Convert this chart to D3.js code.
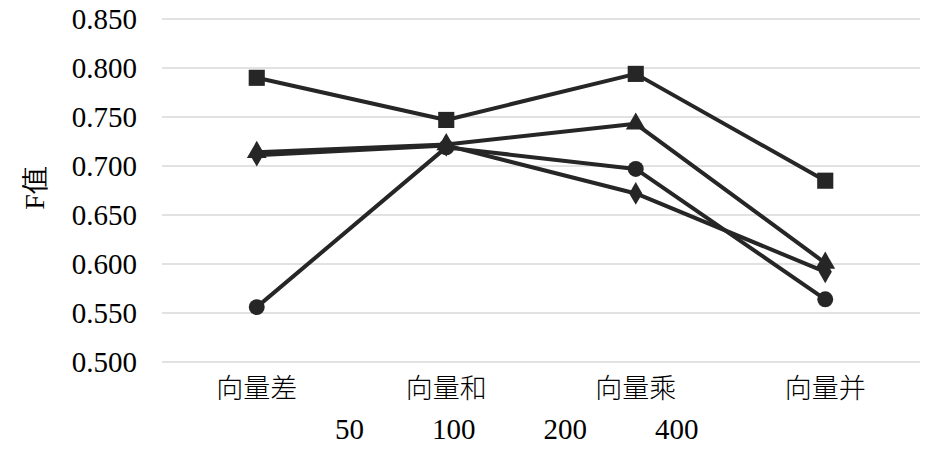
<!DOCTYPE html>
<html>
<head>
<meta charset="utf-8">
<script src="https://cdn.jsdelivr.net/npm/d3@7"></script>
<style>
  body { margin: 0; background: #fff; }
  svg { display: block; }
  .num { font-family: "Liberation Serif", "Times New Roman", "DejaVu Serif", serif; fill: #000; }
</style>
</head>
<body>
<svg width="945" height="468"></svg>
<script>
const categories = ["向量差", "向量和", "向量乘", "向量并"];
const seriesNames = ["50", "100", "200", "400"];
const s50 = [0.711, 0.721, 0.672, 0.592];
const s100 = [0.790, 0.747, 0.794, 0.685];
const s200 = [0.714, 0.722, 0.743, 0.601];
const s400 = [0.556, 0.719, 0.697, 0.564];
const yTicks = [0.5, 0.55, 0.6, 0.65, 0.7, 0.75, 0.8, 0.85];

const serif = '"Liberation Serif", "Times New Roman", "DejaVu Serif", serif';
const svg = d3.select("svg");
const plotLeft = 162, plotRight = 920, plotTop = 19, plotBottom = 362;

const x = d3.scaleBand().domain(categories).range([plotLeft, plotRight]);
const y = d3.scaleLinear().domain([0.5, 0.85]).range([plotBottom, plotTop]);
const xc = function (c) { return x(c) + x.bandwidth() / 2; };

// gridlines
svg.append("g").selectAll("line")
  .data(yTicks)
  .enter().append("line")
  .attr("x1", plotLeft).attr("x2", plotRight)
  .attr("y1", d => y(d)).attr("y2", d => y(d))
  .attr("stroke", "#d9d9d9").attr("stroke-width", 1.5);

// y axis labels
const yAxis = d3.axisLeft(y).tickValues(yTicks).tickFormat(d3.format(".3f")).tickSize(0).tickPadding(25);
const ga = svg.append("g").attr("transform", "translate(" + plotLeft + ",0)").call(yAxis);
ga.attr("font-family", null);
ga.select(".domain").remove();
ga.selectAll("text").style("font-size", "29px").style("fill", "#000")
  .style("font-family", serif);

// x axis labels
const xAxis = d3.axisBottom(x).tickSize(0).tickPadding(17);
const gx = svg.append("g").attr("transform", "translate(0," + plotBottom + ")").call(xAxis);
gx.attr("font-family", null);
gx.select(".domain").remove();
gx.selectAll("text").style("font-size", "27px").style("fill", "#000")
  .style("font-family", '"Noto Sans CJK SC", sans-serif').style("font-weight", 300);

// y title
svg.append("text")
  .style("font-family", serif)
  .attr("transform", "translate(44,188) rotate(-90)")
  .attr("text-anchor", "middle")
  .style("font-size", "28px")
  .text("F值");

const series = [
  { name: seriesNames[0], values: s50, symbol: d3.symbolDiamond, size: 150 },
  { name: seriesNames[1], values: s100, symbol: d3.symbolSquare, size: 260 },
  { name: seriesNames[2], values: s200, symbol: d3.symbolTriangle, size: 170 },
  { name: seriesNames[3], values: s400, symbol: d3.symbolCircle, size: 200 }
];

const line = d3.line()
  .x((d, i) => xc(categories[i]))
  .y(d => y(d));

const color = "#262626";

series.forEach(function (s) {
  const g = svg.append("g");
  g.append("path")
    .datum(s.values)
    .attr("d", line)
    .attr("fill", "none")
    .attr("stroke", color)
    .attr("stroke-width", 4)
    .attr("stroke-linejoin", "round");
  g.selectAll(".pt")
    .data(s.values)
    .enter().append("path")
    .attr("class", "pt")
    .attr("transform", (d, i) => "translate(" + xc(categories[i]) + "," + y(d) + ")")
    .attr("d", d3.symbol().type(s.symbol).size(s.size))
    .attr("fill", color);
});

// legend (text only)
const legend = svg.append("g");
let lx = 335;
seriesNames.forEach(function (n) {
  const t = legend.append("text")
    .style("font-family", serif)
    .attr("x", lx)
    .attr("y", 439)
    .style("font-size", "29px")
    .text(n);
  lx += t.node().getComputedTextLength() + 68;
});
</script>
</body>
</html>
